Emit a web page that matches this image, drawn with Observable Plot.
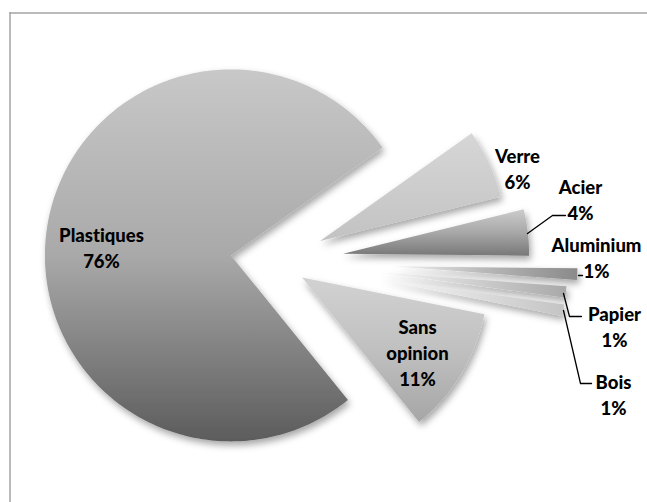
<!DOCTYPE html>
<html><head><meta charset="utf-8">
<script src="https://cdn.jsdelivr.net/npm/d3@7"></script>
<script src="https://cdn.jsdelivr.net/npm/@observablehq/plot@0.6"></script>
<style>
html,body{margin:0;padding:0;background:#fff;}
#chart svg{display:block;}
#chart text{font-variant-ligatures:none;font-feature-settings:"liga" 0, "clig" 0;}
</style>
</head><body><div id="chart"></div>
<script>
// ---- data ----
const categories = ["Plastiques", "Verre", "Acier", "Aluminium", "Papier", "Bois", "Sans opinion"];
const values = [76, 6, 4, 1, 1, 1, 11];
const labelNames = ["Plastiques", "Verre", "Acier", "Aluminium", "Papier", "Bois", "Sans\nopinion"];

// ---- layout (pixels) ----
const W = 647, H = 502;
const center = [275, 261];
const radius = 186;
const startDeg = 141;                 // compass angle where the first slice starts (clockwise)
const explode = [45, 49, 68, 116, 106, 106, 31];
const labelXY = [[101, 246], [517, 167], [580, 198], [596, 256], [614, 325], [613, 393], [417, 351]];
const leaders = {
  Acier: [[527, 233], [552, 215], [565, 215]],
  Aluminium: [[578, 275], [582, 275]],
  Papier: [[563, 293], [569, 316], [581, 316]],
  Bois: [[563, 310], [580, 383], [591, 383]]
};
// gradients: direction, stops
const grads = [
  {dir: [0, 1], stops: ["#c8c8c8", "#a9a9a9", "#5c5c5c"]},
  {dir: [0, 1], stops: ["#d6d6d6", "#cdcdcd", "#c2c2c2"]},
  {dir: [0, 1], stops: ["#cccccc", "#a8a8a8", "#787878"]},
  {dir: [1, 0], stops: ["#f4f4f4", "#b8b8b8", "#8a8a8a"]},
  {dir: [1, 0], stops: ["#f6f6f6", "#cfcfcf", "#a9a9a9"]},
  {dir: [1, 0], stops: ["#f8f8f8", "#dedede", "#c4c4c4"]},
  {dir: [0, 1], stops: ["#d2d2d2", "#c0c0c0", "#a6a6a6"]}
];

// ---- geometry from values ----
const total = d3.sum(values);
const slices = [];
let acc = startDeg;
values.forEach((v, i) => {
  const a0 = acc, a1 = acc + v / total * 360;
  acc = a1;
  const m = (a0 + a1) / 2 * Math.PI / 180;
  const ax = center[0] + explode[i] * Math.sin(m);
  const ay = center[1] - explode[i] * Math.cos(m);
  const pts = [[ax, ay]];
  const n = Math.max(4, Math.ceil(a1 - a0));
  for (let k = 0; k <= n; k++) {
    const a = (a0 + (a1 - a0) * k / n) * Math.PI / 180;
    pts.push([ax + radius * Math.sin(a), ay - radius * Math.cos(a)]);
  }
  pts.push([ax, ay]);
  slices.push(pts.map(([x, y]) => ({slice: categories[i], x, y})));
});

const labelRows = categories.map((c, i) => ({
  x: labelXY[i][0], y: labelXY[i][1],
  text: labelNames[i] + "\n" + values[i] + "%"
}));
const leaderRows = [];
Object.entries(leaders).forEach(([k, pts]) => pts.forEach(([x, y]) => leaderRows.push({k, x, y})));

const marks = [
  Plot.ruleY([12.5], {x1: 9.5, x2: W, stroke: "#a3a3a3", strokeWidth: 1.5}),
  Plot.ruleX([9.5], {y1: 12, y2: H, stroke: "#a3a3a3", strokeWidth: 1.5})
];
slices.forEach((sr, i) => {
  marks.push(Plot.line(sr, {x: "x", y: "y", fill: `url(#grad${i})`, stroke: "none", curve: "linear"}));
});
marks.push(Plot.line(leaderRows, {x: "x", y: "y", z: "k", stroke: "#000", strokeWidth: 1.3}));
marks.push(Plot.text(labelRows, {
  x: "x", y: "y", text: "text", fill: "#000",
  fontSize: 18.5, fontWeight: 900, fontFamily: "Lato", lineHeight: 1.4, textAnchor: "middle"
}));

const plot = Plot.plot({
  width: W, height: H, margin: 0,
  x: {domain: [0, W], range: [0, W], axis: null},
  y: {domain: [0, H], range: [0, H], axis: null},
  style: {background: "#fff"},
  marks
});

const defs = d3.select(plot).insert("defs", ":first-child");
grads.forEach((g, i) => {
  const lg = defs.append("linearGradient").attr("id", `grad${i}`)
    .attr("x1", 0).attr("y1", 0).attr("x2", g.dir[0]).attr("y2", g.dir[1]);
  g.stops.forEach((c, k) => lg.append("stop").attr("offset", k / (g.stops.length - 1)).attr("stop-color", c));
});
const f = defs.append("filter").attr("id", "shadow")
  .attr("filterUnits", "userSpaceOnUse").attr("x", 0).attr("y", 0).attr("width", W).attr("height", H);
f.append("feDropShadow").attr("dx", 2).attr("dy", 4).attr("stdDeviation", 3.5)
  .attr("flood-color", "#000").attr("flood-opacity", 0.35);
d3.select(plot).selectAll("path").filter(function () {
  const fl = this.getAttribute("fill") || (this.parentNode && this.parentNode.getAttribute("fill"));
  return fl && fl.startsWith("url(#grad");
}).attr("filter", "url(#shadow)");

document.getElementById("chart").appendChild(plot);
</script>
</body></html>
